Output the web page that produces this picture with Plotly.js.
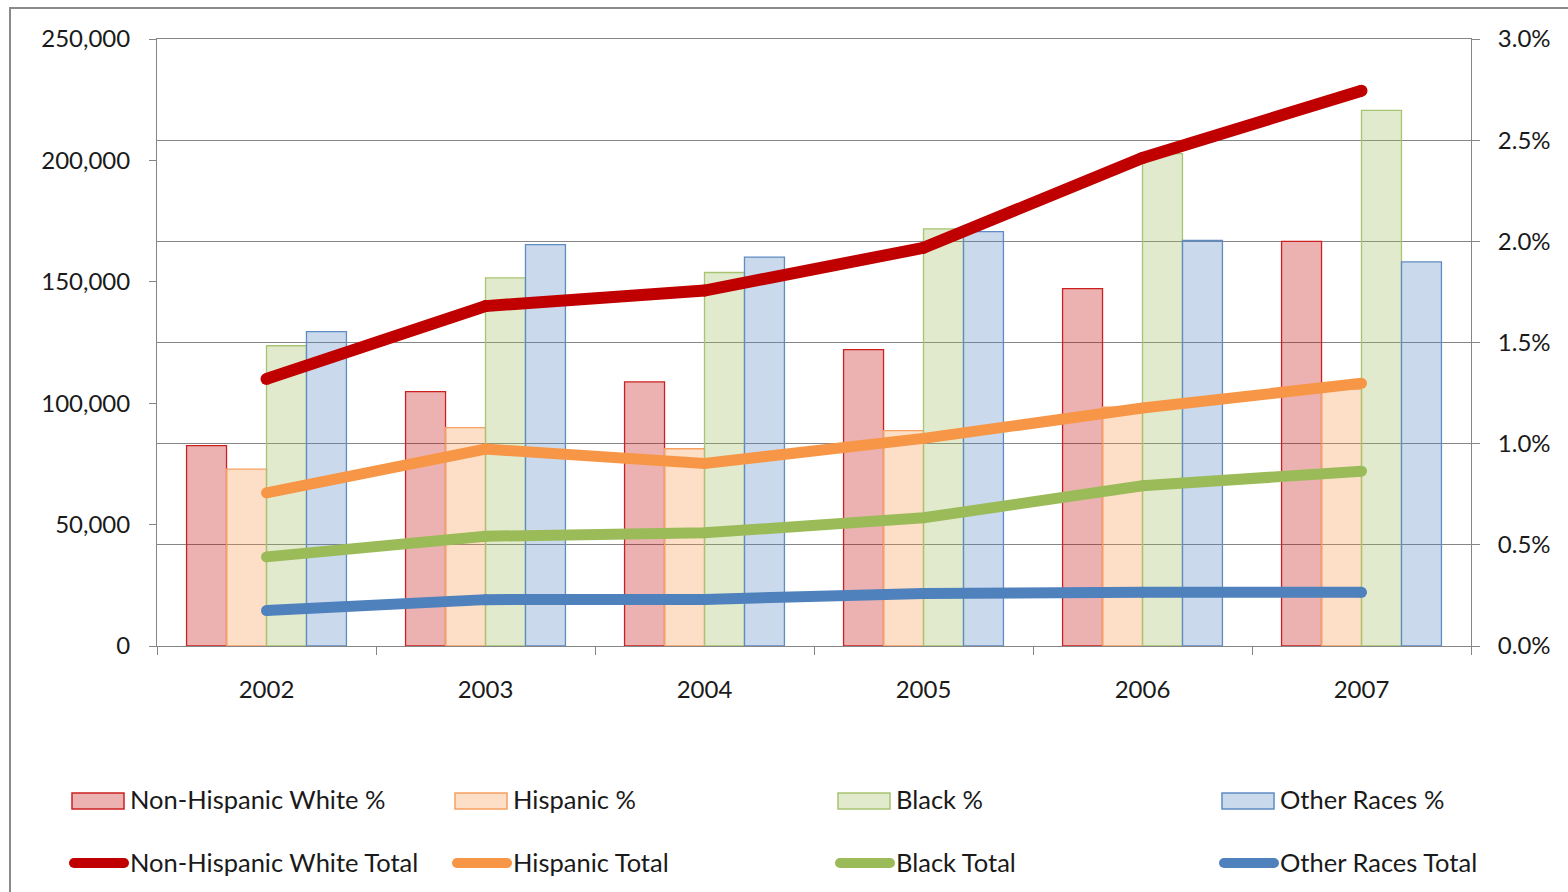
<!DOCTYPE html>
<html>
<head>
<meta charset="utf-8">
<script src="https://cdn.plot.ly/plotly-3.0.1.min.js"></script>
<style>
  html, body { margin: 0; padding: 0; background: #ffffff; }
  #chart { width: 1568px; height: 892px; }
</style>
</head>
<body>
<div id="chart"></div>
<script>
// Years on the category axis
const years = ['2002', '2003', '2004', '2005', '2006', '2007'];

// Share of each group (percent, right axis)
const nhwPct   = [0.99, 1.257, 1.305, 1.465, 1.766, 2.0];
const hispPct  = [0.874, 1.079, 0.975, 1.064, 1.18, 1.27];
const blackPct = [1.484, 1.819, 1.846, 2.062, 2.433, 2.647];
const otherPct = [1.554, 1.984, 1.922, 2.048, 2.004, 1.898];

// Totals of each group (left axis)
const nhwTotal   = [110000, 140000, 146400, 164000, 201000, 228700];
const hispTotal  = [63100, 81100, 75200, 85500, 98000, 108200];
const blackTotal = [36700, 45200, 46600, 52800, 66000, 72000];
const otherTotal = [14600, 19100, 19200, 21600, 22100, 22100];

// Series names
const pctNames   = ['Non-Hispanic White %', 'Hispanic %', 'Black %', 'Other Races %'];
const totalNames = ['Non-Hispanic White Total', 'Hispanic Total', 'Black Total', 'Other Races Total'];

// Colours
const lineColors   = ['#C00000', '#F79646', '#9BBB59', '#4F81BD'];
const barFills     = ['rgba(192,0,0,0.30)', 'rgba(247,150,70,0.30)', 'rgba(155,187,89,0.30)', 'rgba(79,129,189,0.30)'];
const barBorders   = ['#CC2020', '#F7A060', '#A8C470', '#5F8CC4'];
const lineWidths   = [12, 11, 11, 11];

const pctSeries   = [nhwPct, hispPct, blackPct, otherPct];
const totalSeries = [nhwTotal, hispTotal, blackTotal, otherTotal];

const FONT = 'Lato, "Open Sans", "DejaVu Sans", sans-serif';
const AXIS_GRAY = '#868686';
const TEXT = '#1a1a1a';

const traces = [];
pctSeries.forEach((vals, i) => {
  traces.push({
    type: 'bar', x: years, y: vals, name: pctNames[i],
    xaxis: 'x', yaxis: 'y',
    marker: { color: barFills[i], line: { color: barBorders[i], width: 1.3 } },
    hoverinfo: 'x+y+name'
  });
});
totalSeries.forEach((vals, i) => {
  traces.push({
    type: 'scatter', mode: 'lines+markers', x: years, y: vals, name: totalNames[i],
    xaxis: 'x', yaxis: 'y2',
    line: { color: lineColors[i], width: lineWidths[i] },
    marker: { color: lineColors[i], size: lineWidths[i], line: { width: 0 } },
    hoverinfo: 'x+y+name'
  });
});

// Page geometry (pixels) for the plot area
const W = 1568, H = 892;
const M = { l: 157, r: 97, t: 39, b: 246 };
const PW = W - M.l - M.r, PH = H - M.t - M.b;
const px = v => (v - M.l) / PW;
const py = v => (H - M.b - v) / PH;

const shapes = [];
const annotations = [];

// Outer chart frame
shapes.push({
  type: 'rect', xref: 'paper', yref: 'paper', layer: 'above',
  x0: px(10), x1: px(1620), y0: py(8), y1: py(940),
  line: { color: '#8a8a8a', width: 2 }, fillcolor: 'rgba(0,0,0,0)'
});

// Legend: two rows of four columns
const colX = [72, 455, 838, 1222];
const row1Y = 799, row2Y = 862;
const LEGEND_SIZE = 25.5;
pctNames.forEach((name, i) => {
  const x0 = colX[i];
  shapes.push({
    type: 'rect', xref: 'paper', yref: 'paper', layer: 'above',
    x0: px(x0), x1: px(x0 + 52), y0: py(row1Y - 6), y1: py(row1Y + 10),
    fillcolor: barFills[i], line: { color: barBorders[i], width: 1.5 }
  });
  annotations.push({
    xref: 'paper', yref: 'paper', x: px(x0 + 56), y: py(row1Y),
    xanchor: 'left', yanchor: 'middle', showarrow: false, text: name,
    font: { family: FONT, size: LEGEND_SIZE, color: TEXT }
  });
});
totalNames.forEach((name, i) => {
  const x0 = colX[i];
  shapes.push({
    type: 'line', xref: 'paper', yref: 'paper', layer: 'above',
    x0: px(x0 + 2), x1: px(x0 + 52), y0: py(row2Y + 1), y1: py(row2Y + 1),
    line: { color: lineColors[i], width: 10 }
  });
  [x0 + 2, x0 + 52].forEach(cx => {
    shapes.push({
      type: 'circle', xref: 'paper', yref: 'paper', layer: 'above',
      x0: px(cx - 5), x1: px(cx + 5), y0: py(row2Y - 4), y1: py(row2Y + 6),
      fillcolor: lineColors[i], line: { width: 0 }
    });
  });
  annotations.push({
    xref: 'paper', yref: 'paper', x: px(x0 + 56), y: py(row2Y),
    xanchor: 'left', yanchor: 'middle', showarrow: false, text: name,
    font: { family: FONT, size: LEGEND_SIZE, color: TEXT }
  });
});

const layout = {
  width: W, height: H,
  margin: M,
  paper_bgcolor: '#ffffff', plot_bgcolor: '#ffffff',
  showlegend: false,
  barmode: 'group', bargap: 0.27, bargroupgap: 0,
  font: { family: FONT, size: 24, color: TEXT },
  xaxis: {
    type: 'category', tickson: 'boundaries',
    ticks: 'outside', ticklen: 8, tickcolor: AXIS_GRAY, tickwidth: 1,
    showline: true, mirror: true, linecolor: AXIS_GRAY, linewidth: 1,
    showgrid: false, zeroline: false,
    tickfont: { family: FONT, size: 24, color: TEXT },
    ticklabelstandoff: 22
  },
  yaxis: {
    side: 'right', range: [0, 3], dtick: 0.5, tick0: 0,
    tickformat: '.1f', ticksuffix: '%',
    ticks: 'outside', ticklen: 8, tickcolor: AXIS_GRAY, tickwidth: 1,
    showline: true, linecolor: AXIS_GRAY, linewidth: 1,
    showgrid: true, gridcolor: AXIS_GRAY, gridwidth: 1, zeroline: false,
    tickfont: { family: FONT, size: 24, color: TEXT },
    ticklabelstandoff: 13
  },
  yaxis2: {
    side: 'left', overlaying: 'y', range: [0, 250000], dtick: 50000, tick0: 0,
    tickformat: ',d',
    ticks: 'outside', ticklen: 7, tickcolor: AXIS_GRAY, tickwidth: 1,
    showline: true, linecolor: AXIS_GRAY, linewidth: 1,
    showgrid: false, zeroline: false,
    tickfont: { family: FONT, size: 24, color: TEXT },
    ticklabelstandoff: 14
  },
  shapes: shapes,
  annotations: annotations
};

Plotly.newPlot('chart', traces, layout, { displayModeBar: false, responsive: false });
</script>
</body>
</html>
